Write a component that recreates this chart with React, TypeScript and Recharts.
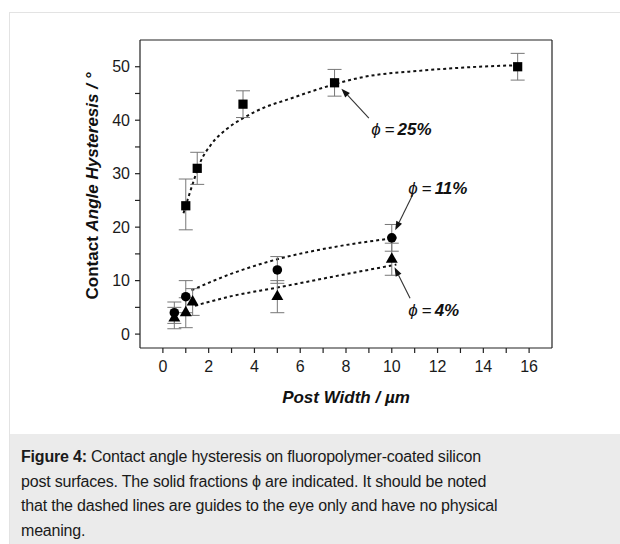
import {
  ComposedChart, Scatter, Line, XAxis, YAxis, ZAxis, ErrorBar,
  ReferenceLine, ReferenceDot,
} from 'recharts'

// measured points: post width (µm) vs. hysteresis (deg)
const widths25 = [1, 1.5, 3.5, 7.5, 15.5]
const hyst25 = [24, 31, 43, 47, 50]
const err25 = [[4.5, 5], [3, 3], [2.5, 2.5], [2.5, 2.5], [2.5, 2.5]]

const widths11 = [0.5, 1, 5, 10]
const hyst11 = [4, 7, 12, 18]
const err11 = [[2, 2], [3, 3], [2.5, 2.5], [2.5, 2.5]]

const widths4 = [0.5, 1, 1.3, 5, 10]
const hyst4 = [3, 4, 6, 7, 14]
const err4 = [[2, 2], [2.8, 2.8], [2.5, 2.5], [3, 3], [3, 3]]

// dashed "guide to the eye" curves
const guide25X = [0.9, 1.28, 1.64, 2.08, 2.8, 3.47, 4.5, 5.4, 6.5, 7.4, 8.56, 11.4, 14.3, 15.6]
const guide25Y = [22.6, 27.8, 32.2, 35.3, 38.4, 40.3, 42.5, 43.8, 45.4, 46.6, 47.9, 49.3, 50.1, 50.3]
const guide11X = [1.25, 3, 5, 7.5, 10.2]
const guide11Y = [8.2, 11.3, 14, 16.3, 18]
const guide4X = [1.4, 3, 5, 7.5, 10.2]
const guide4Y = [5.3, 7.1, 8.7, 10.8, 13]

const xTicks = [0, 1, 2, 3, 4, 5, 6, 7, 8, 9, 10, 11, 12, 13, 14, 15, 16]
const xMajor = [0, 2, 4, 6, 8, 10, 12, 14, 16]
const yTicks = [0, 5, 10, 15, 20, 25, 30, 35, 40, 45, 50]
const yMajor = [0, 10, 20, 30, 40, 50]

// annotations: label anchor + arrow (tail -> head), data units
const notes = [
  { text: '25%', lx: 9.1, ly: 38.4, from: [9.0, 40.4], to: [7.8, 45.9] },
  { text: '11%', lx: 10.72, ly: 27.3, from: [10.94, 26.3], to: [10.15, 19.4] },
  { text: '4%', lx: 10.72, ly: 4.6, from: [10.8, 6.7], to: [10.12, 12.5] },
]

const pts = (xs: number[], ys: number[], es?: number[][]) =>
  xs.map((x, i) => ({ x, y: ys[i], err: es ? es[i] : undefined }))

const FONT = '"Liberation Sans", Arial, sans-serif'
const AXIS = '#222'
const X_DOMAIN = [-1, 17]
const Y_DOMAIN = [-2.6, 55]

function Arrow(p: any) {
  const { x1, y1, x2, y2 } = p
  const a = Math.atan2(y2 - y1, x2 - x1)
  const len = 9
  const w = 3.2
  const bx = x2 - len * Math.cos(a)
  const by = y2 - len * Math.sin(a)
  const head = [
    [x2, y2],
    [bx + w * Math.sin(a), by - w * Math.cos(a)],
    [bx - w * Math.sin(a), by + w * Math.cos(a)],
  ].map(q => q.join(',')).join(' ')
  return (
    <g>
      <line x1={x1} y1={y1} x2={bx} y2={by} stroke="#333" strokeWidth={1.1} />
      <polygon points={head} fill="#111" />
    </g>
  )
}

function PhiLabel({ cx, cy, text }: any) {
  return (
    <text x={cx} y={cy} dy="0.36em" fontFamily={FONT} fontSize={17} fill="#111">
      <tspan fontStyle="italic">ϕ</tspan>
      <tspan dx={4}>=</tspan>
      <tspan dx={3} fontWeight="bold" fontStyle="italic">{text}</tspan>
    </text>
  )
}

function YTitle({ viewBox }: any) {
  const x = viewBox.x + 92
  const y = viewBox.y + viewBox.height / 2 - 8
  return (
    <text x={x} y={y} dy="0.36em" transform={`rotate(-90, ${x}, ${y})`} textAnchor="middle"
      fontFamily={FONT} fontSize={17} fontWeight="bold" fill="#111">
      <tspan>Contact </tspan>
      <tspan fontStyle="italic">Angle Hysteresis / °</tspan>
    </text>
  )
}

function Figure() {
  const tickStyle = { fontSize: 16, fill: '#1a1a1a', fontFamily: FONT }
  const guide = { type: 'monotone' as const, stroke: '#111', strokeWidth: 2, strokeDasharray: '3 3', dot: false, activeDot: false, isAnimationActive: false }
  return (
    <ComposedChart width={620} height={434} margin={{ top: 39, right: 67, bottom: 0, left: 0 }}>
      <XAxis xAxisId="bottom" type="number" dataKey="x" domain={X_DOMAIN} ticks={xTicks}
        tickFormatter={(v: number) => (v % 2 === 0 ? String(v) : '')}
        allowDataOverflow height={86} tickSize={5} tickMargin={8} tick={tickStyle}
        stroke={AXIS} strokeWidth={1.2}
        label={{ value: 'Post Width / µm', position: 'insideBottom', offset: 31, fontSize: 17, fontWeight: 'bold', fontStyle: 'italic', fill: '#111', fontFamily: FONT }} />
      <XAxis xAxisId="top" orientation="top" type="number" dataKey="x" domain={X_DOMAIN}
        allowDataOverflow ticks={xMajor} tick={false} tickSize={-5} height={1} stroke={AXIS} strokeWidth={1.2} />
      <YAxis yAxisId="left" type="number" domain={Y_DOMAIN} ticks={yTicks}
        tickFormatter={(v: number) => (v % 10 === 0 ? String(v) : '')}
        allowDataOverflow width={140} tickSize={5} tickMargin={5} tick={tickStyle}
        stroke={AXIS} strokeWidth={1.2} label={{ content: YTitle }} />
      <YAxis yAxisId="right" orientation="right" type="number" domain={Y_DOMAIN}
        allowDataOverflow ticks={yMajor} tick={false} tickSize={-5} width={1} stroke={AXIS} strokeWidth={1.2} />
      <ZAxis zAxisId="sq" range={[85, 85]} />
      <ZAxis zAxisId="ci" range={[72, 72]} />
      <ZAxis zAxisId="tr" range={[62, 62]} />

      <Line data={pts(guide25X, guide25Y)} dataKey="y" xAxisId="top" yAxisId="right" {...guide} />
      <Line data={pts(guide11X, guide11Y)} dataKey="y" xAxisId="top" yAxisId="right" {...guide} />
      <Line data={pts(guide4X, guide4Y)} dataKey="y" xAxisId="top" yAxisId="right" {...guide} />

      <Scatter data={pts(widths25, hyst25, err25)} dataKey="y" xAxisId="bottom" yAxisId="left" zAxisId="sq" shape="square" fill="#000" isAnimationActive={false}>
        <ErrorBar dataKey="err" direction="y" width={7} stroke="#777" strokeWidth={1} />
      </Scatter>
      <Scatter data={pts(widths11, hyst11, err11)} dataKey="y" xAxisId="bottom" yAxisId="left" zAxisId="ci" shape="circle" fill="#000" isAnimationActive={false}>
        <ErrorBar dataKey="err" direction="y" width={7} stroke="#777" strokeWidth={1} />
      </Scatter>
      <Scatter data={pts(widths4, hyst4, err4)} dataKey="y" xAxisId="bottom" yAxisId="left" zAxisId="tr" shape="triangle" fill="#000" isAnimationActive={false}>
        <ErrorBar dataKey="err" direction="y" width={7} stroke="#777" strokeWidth={1} />
      </Scatter>

      {notes.map(n => (
        <ReferenceLine key={'a' + n.text} xAxisId="bottom" yAxisId="left"
          segment={[{ x: n.from[0], y: n.from[1] }, { x: n.to[0], y: n.to[1] }]} shape={Arrow} />
      ))}
      {notes.map(n => (
        <ReferenceDot key={'t' + n.text} xAxisId="bottom" yAxisId="left" x={n.lx} y={n.ly} r={0}
          shape={(p: any) => <PhiLabel cx={p.cx} cy={p.cy} text={n.text} />} />
      ))}
    </ComposedChart>
  )
}

export default function App() {
  return (
    <div>
      <div style={{ position: 'absolute', left: 9, top: 12, width: 611, height: 532, borderTop: '1px solid #e3e3e3', borderLeft: '1px solid #e3e3e3', boxSizing: 'border-box' }} />
      <div style={{ position: 'absolute', left: 0, top: 0 }}>
        <Figure />
      </div>
      <div style={{ position: 'absolute', left: 10, top: 434, width: 610, height: 110, background: '#ebebeb', padding: '11px 11px', boxSizing: 'border-box', fontFamily: FONT, fontSize: 16, letterSpacing: '-0.2px', lineHeight: '24.5px', color: '#1a1a1a' }}>
        <b>Figure 4:</b> Contact angle hysteresis on fluoropolymer-coated silicon<br />
        post surfaces. The solid fractions ϕ are indicated. It should be noted<br />
        that the dashed lines are guides to the eye only and have no physical<br />
        meaning.
      </div>
    </div>
  )
}
